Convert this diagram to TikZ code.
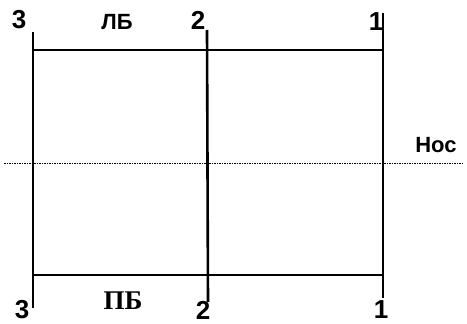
\documentclass[tikz,border=0pt]{standalone}
\usepackage{fontspec}
\setmainfont{Liberation Serif}
\setsansfont{Liberation Sans}
\begin{document}
\begin{tikzpicture}[x=1pt, y=-1pt, line cap=butt,
  frame/.style={line width=1.8pt},
  axisline/.style={line width=1pt, dash pattern=on 1.5pt off 1pt},
  num/.style={font=\sffamily\bfseries\fontsize{26}{26}\selectfont, inner sep=0pt},
  side/.style={font=\sffamily\bfseries\fontsize{22}{22}\selectfont, inner sep=0pt},
  sideser/.style={font=\bfseries\fontsize{27}{27}\selectfont, inner sep=0pt}]
  \useasboundingbox (0,0) rectangle (467,324);
  % ends of the frames
  \coordinate (a3) at (33,32);  \coordinate (b3) at (33,308);
  \coordinate (a2) at (207,30); \coordinate (b2) at (208,302);
  \coordinate (a1) at (383,13); \coordinate (b1) at (383,298);
  \coordinate (bowL) at (4,163); \coordinate (bowR) at (462,163);
  % frames
  \draw[frame] (a3)--(b3);
  \draw[frame, line width=2.6pt] (a2)--(b2);
  \draw[frame] (a1)--(b1);
  \draw[frame] (a3 |- 0,50)--(a1 |- 0,50);
  \draw[frame] (b3 |- 0,275)--(b1 |- 0,275);
  \draw[axisline] (bowL)--(bowR);
  % labels
  \node[num] (n3t) at (19,20) {3};
  \node[num] (n2t) at (198,20) {2};
  \node[num] (n1t) at (376,22) {1};
  \node[num] (n3b) at (22,310) {3};
  \node[num] (n2b) at (203,310) {2};
  \node[num] (n1b) at (381,310) {1};
  \node[side] (lb) at (117,22) {ЛБ};
  \node[sideser] (pb) at (123,301) {ПБ};
  \node[num, font=\sffamily\bfseries\fontsize{22}{22}\selectfont] (bow) at (436,145) {Нос};
\end{tikzpicture}
\end{document}
